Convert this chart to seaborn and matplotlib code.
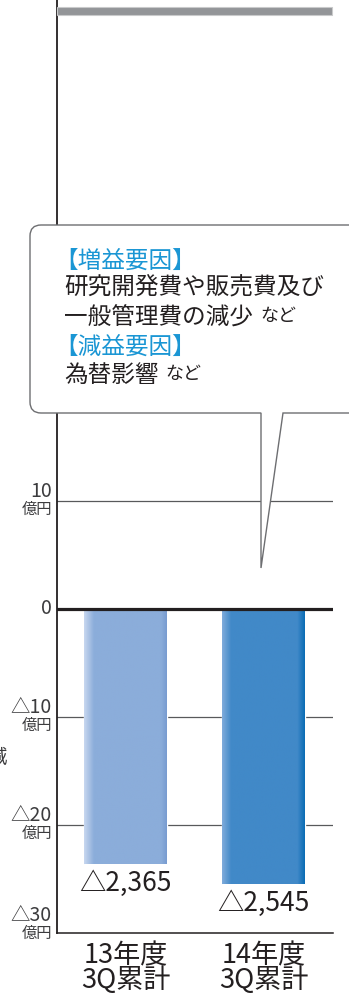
import numpy as np
import pandas as pd
import matplotlib
matplotlib.use("Agg")
import matplotlib.pyplot as plt
import matplotlib.colors as mcolors
from matplotlib.path import Path
from matplotlib.patches import PathPatch, Rectangle
import seaborn as sns

# ---- data (operating profit change, 百万円) ----
periods = ["13年度\n3Q累計", "14年度\n3Q累計"]
profit_change = [-2365, -2545]
value_labels = ["△2,365", "△2,545"]

tick_values = [1000, 0, -1000, -2000, -3000]
tick_numbers = ["10", "0", "△10", "△20", "△30"]
tick_units = ["億円", "", "億円", "億円", "億円"]

increase_head = "【増益要因】"
increase_lines = ["研究開発費や販売費及び", "一般管理費の減少"]
decrease_head = "【減益要因】"
decrease_lines = ["為替影響"]
suffix = "など"
side_label = "減"

# ---- style ----
sns.set_theme(style="white")
plt.rcParams["font.family"] = ["Noto Sans CJK JP", "DejaVu Sans"]
INK = "#231f20"
AXIS_TXT = "#3c3c3e"
BLUE_TXT = "#1a96d4"
BAR_COLORS = ["#8badda", "#4189c8"]
BAR_SHADES = [
    [(0.0, "#c8d7ef"), (0.12, "#8badda"), (0.93, "#8badda"), (1.0, "#789bd0")],
    [(0.0, "#80acdb"), (0.11, "#4189c8"), (0.91, "#4189c8"), (1.0, "#0a6cb5")],
]

W, H = 349, 999
fig = plt.figure(figsize=(W / 100, H / 100), dpi=100)
fig.patch.set_facecolor("white")

# plot area: spine at x=57, ends at x=333; -3000 at y=933, 108 px per 1000
ax = fig.add_axes([57 / W, (H - 933) / H, (333 - 57) / W, 933 / H])
ax.set_facecolor("none")

df = pd.DataFrame({"period": periods, "change": profit_change})
sns.barplot(data=df, x="period", y="change", hue="period", palette=BAR_COLORS,
            width=0.6, saturation=1, legend=False, ax=ax, zorder=2)

bars = [p for c in ax.containers for p in c]

# horizontal shading on each bar
for patch, stops in zip(bars, BAR_SHADES):
    pos = [s[0] for s in stops]
    cols = np.array([mcolors.to_rgb(s[1]) for s in stops])
    t = np.linspace(0, 1, 256)
    img = np.stack([np.interp(t, pos, cols[:, k]) for k in range(3)], axis=-1)[None, :, :]
    x0 = patch.get_x()
    x1 = x0 + patch.get_width()
    y0 = patch.get_y()
    y1 = y0 + patch.get_height()
    im = ax.imshow(img, extent=[x0, x1, min(y0, y1), max(y0, y1)], aspect="auto",
                   interpolation="bilinear", zorder=2.1)
    im.set_clip_path(patch)

ymin = -3000
ymax = ymin + 933 / 0.108
ax.set_ylim(ymin, ymax)
ax.set_xlim(-0.496, 1.504)

# grid and zero line
for v in tick_values:
    if v == 0:
        ax.axhline(v, color=INK, lw=2.3, zorder=5)
    elif v != ymin:
        ax.axhline(v, color="#58595b", lw=0.9, zorder=0.5)

for side in ["top", "right"]:
    ax.spines[side].set_visible(False)
ax.spines["left"].set_color(INK)
ax.spines["left"].set_linewidth(1.3)
ax.spines["bottom"].set_color(INK)
ax.spines["bottom"].set_linewidth(1.1)

ax.set_yticks([])
ax.set_xlabel("")
ax.set_ylabel("")
ax.tick_params(axis="x", length=0, pad=7, labelsize=19.5, labelcolor=INK)
for lbl in ax.get_xticklabels():
    lbl.set_linespacing(0.84)

# y tick labels: number above the line, unit below
ytrans = ax.get_yaxis_transform()
unit_shift = [0, 0, 0, 0, 8]
for v, num, unit, sh in zip(tick_values, tick_numbers, tick_units, unit_shift):
    if unit:
        ax.annotate(num, xy=(0, v), xycoords=ytrans, xytext=(-5, 4 + sh),
                    textcoords="offset pixels", ha="right", va="baseline",
                    fontsize=14, color=AXIS_TXT, annotation_clip=False)
        ax.annotate(unit, xy=(0, v), xycoords=ytrans, xytext=(-5, 0 + sh),
                    textcoords="offset pixels", ha="right", va="top",
                    fontsize=11, color=AXIS_TXT, annotation_clip=False)
    else:
        ax.annotate(num, xy=(0, v), xycoords=ytrans, xytext=(-5, 0),
                    textcoords="offset pixels", ha="right", va="center",
                    fontsize=14, color=AXIS_TXT, annotation_clip=False)

# value labels under each bar
for patch, txt in zip(bars, value_labels):
    xc = patch.get_x() + patch.get_width() / 2
    yb = patch.get_y() + patch.get_height()
    ax.annotate(txt, xy=(xc, yb), xytext=(0, -6), textcoords="offset pixels",
                ha="center", va="top", fontsize=19, color=INK, annotation_clip=False)

# ---- overlay in pixel coordinates for the callout and header rule ----
ov = fig.add_axes([0, 0, 1, 1])
ov.set_xlim(0, W)
ov.set_ylim(H, 0)
ov.axis("off")
ov.set_zorder(ax.get_zorder() + 1)
ov.patch.set_visible(False)

ov.add_patch(Rectangle((57, 7), 275, 7.5, facecolor="#939598", edgecolor="#c9cacb", lw=0.8))

L, T, R, B, r = 30, 225, 365, 413, 11
tip_l, tip_r, tip_y = 261, 283, 568
verts = [
    (tip_l, B), (L + r, B), (L, B), (L, B - r), (L, T + r), (L, T), (L + r, T),
    (R, T), (R, B), (tip_r, B), (tip_l, tip_y), (tip_l, B), (tip_l, B),
]
codes = [
    Path.MOVETO, Path.LINETO, Path.CURVE3, Path.CURVE3, Path.LINETO, Path.CURVE3, Path.CURVE3,
    Path.LINETO, Path.LINETO, Path.LINETO, Path.LINETO, Path.LINETO, Path.CLOSEPOLY,
]
ov.add_patch(PathPatch(Path(verts, codes), facecolor="white", edgecolor="#6d6e71", lw=1.0))

ov.text(54, 261, increase_head, fontsize=17, color=BLUE_TXT, ha="left", va="center")
ov.text(64, 288, increase_lines[0], fontsize=17, color=INK, ha="left", va="center")
t2 = ov.text(64, 318, increase_lines[1], fontsize=17, color=INK, ha="left", va="center")
ov.annotate(suffix, xy=(1, 0), xycoords=t2, xytext=(7, 4), textcoords="offset pixels",
            fontsize=13, color=INK, ha="left", va="bottom")
ov.text(54, 347, decrease_head, fontsize=17, color=BLUE_TXT, ha="left", va="center")
t4 = ov.text(64, 375, decrease_lines[0], fontsize=17, color=INK, ha="left", va="center")
ov.annotate(suffix, xy=(1, 0), xycoords=t4, xytext=(7, 4), textcoords="offset pixels",
            fontsize=13, color=INK, ha="left", va="bottom")

ov.text(7, 757, side_label, fontsize=14, color=AXIS_TXT, ha="right", va="center")

fig.savefig("out.png", dpi=100, facecolor="white")
